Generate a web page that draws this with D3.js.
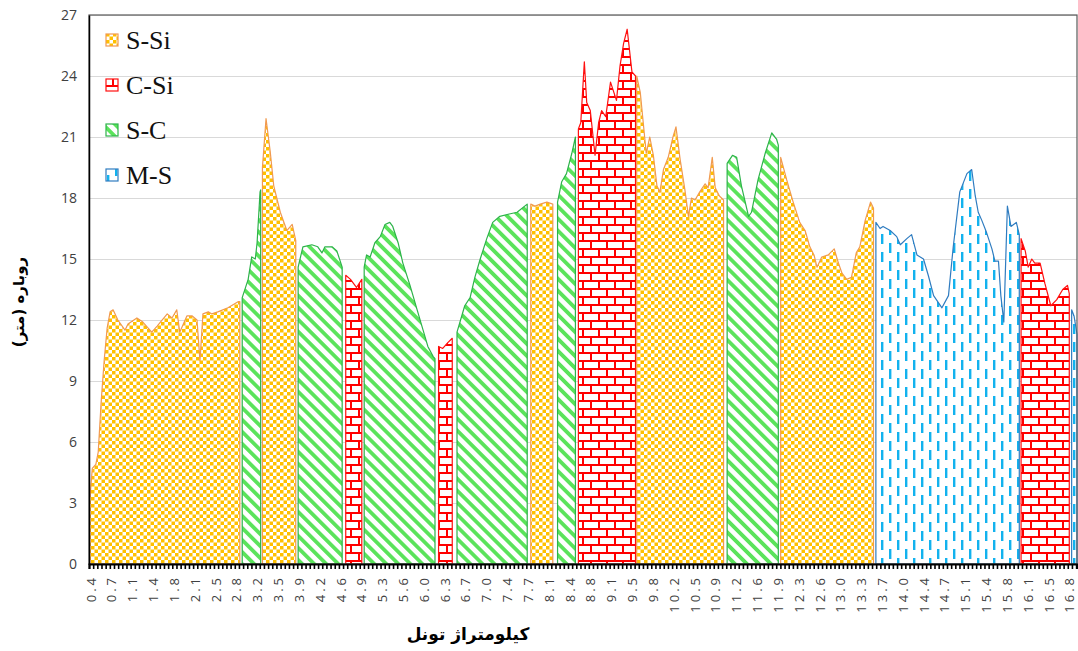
<!DOCTYPE html>
<html><head><meta charset="utf-8">
<script src="https://cdn.jsdelivr.net/npm/d3@7"></script>
<style>body{margin:0;background:#fff;} svg{display:block}</style>
</head><body><svg id="c" width="1078" height="651"></svg>
<script>
// ---- data ----
const soilClasses = ["S-Si", "C-Si", "S-C", "M-S"];
const yTicks = [0, 3, 6, 9, 12, 15, 18, 21, 24, 27];
const kmTickLabels = ["0.4","0.7","1.1","1.4","1.8","2.1","2.5","2.8","3.2","3.5","3.9","4.2","4.6","4.9","5.3","5.6","6.0","6.3","6.7","7.0","7.4","7.7","8.1","8.4","8.8","9.1","9.5","9.8","10.2","10.5","10.9","11.2","11.6","11.9","12.3","12.6","13.0","13.3","13.7","14.0","14.4","14.7","15.1","15.4","15.8","16.1","16.5","16.8"];
const chainageStart = 0.365, chainageStep = 0.07, chainageEnd = 16.97;
const segmentSoil = ["S-Si","S-C","S-Si","S-C","C-Si","S-C","C-Si","S-C","S-Si","S-C","C-Si","S-Si","S-C","S-Si","M-S","C-Si","M-S"];
const segmentPoints = [
  [[0.38,3.2],[0.42,4.7],[0.48,4.9],[0.52,5.5],[0.57,8.0],[0.62,10.0],[0.67,11.6],[0.72,12.4],[0.77,12.5],[0.85,12.0],[0.97,11.5],[1.02,11.8],[1.17,12.1],[1.27,11.9],[1.42,11.4],[1.51,11.7],[1.68,12.3],[1.76,12.1],[1.84,12.5],[1.89,11.4],[2.01,12.2],[2.10,12.2],[2.18,12.0],[2.23,10.0],[2.28,12.3],[2.37,12.4],[2.43,12.3],[2.53,12.4],[2.70,12.6],[2.87,12.9],[2.90,12.9]],
  [[2.94,13.1],[3.04,14.0],[3.10,15.1],[3.16,15.0],[3.19,15.8],[3.24,18.3],[3.25,18.4]],
  [[3.28,19.5],[3.34,21.9],[3.41,20.3],[3.47,18.6],[3.58,17.3],[3.69,16.4],[3.78,16.7],[3.84,15.9]],
  [[3.88,14.6],[3.96,15.6],[4.11,15.7],[4.21,15.6],[4.28,15.3],[4.33,15.6],[4.45,15.6],[4.53,15.4],[4.62,14.6]],
  [[4.68,14.2],[4.76,14.0],[4.86,13.6],[4.95,14.0]],
  [[4.99,14.6],[5.03,15.2],[5.09,15.1],[5.17,15.8],[5.26,16.1],[5.34,16.7],[5.42,16.8],[5.47,16.6],[5.56,15.8],[5.64,14.8],[5.76,13.7],[5.88,12.5],[5.98,11.5],[6.06,10.7],[6.15,10.2],[6.18,10.1]],
  [[6.24,10.7],[6.31,10.6],[6.40,10.9],[6.47,11.1]],
  [[6.55,11.4],[6.60,11.9],[6.68,12.7],[6.77,13.1],[6.85,14.1],[6.94,15.0],[7.05,16.0],[7.15,16.8],[7.27,17.1],[7.41,17.2],[7.56,17.3],[7.73,17.7]],
  [[7.79,17.7],[7.86,17.6],[7.95,17.7],[8.06,17.8],[8.16,17.7]],
  [[8.24,17.8],[8.31,18.8],[8.39,19.2],[8.48,20.2],[8.54,21.0]],
  [[8.59,21.4],[8.63,21.7],[8.69,24.7],[8.73,22.7],[8.79,22.3],[8.87,20.1],[8.93,21.7],[8.98,22.3],[9.05,22.0],[9.13,23.7],[9.23,22.8],[9.29,24.5],[9.35,25.6],[9.41,26.3],[9.49,24.2],[9.55,24.0]],
  [[9.57,24.0],[9.63,23.2],[9.68,21.7],[9.73,20.2],[9.79,21.0],[9.85,20.1],[9.91,18.6],[9.96,18.3],[10.02,19.4],[10.10,20.0],[10.18,21.0],[10.23,21.5],[10.30,19.9],[10.38,18.4],[10.44,17.1],[10.49,18.0],[10.55,17.9],[10.63,18.3],[10.72,18.7],[10.77,18.5],[10.84,20.0],[10.89,18.5],[10.96,18.1],[11.03,17.9]],
  [[11.09,19.7],[11.18,20.1],[11.25,20.0],[11.33,18.6],[11.45,17.1],[11.50,17.3],[11.61,18.9],[11.73,20.2],[11.84,21.2],[11.92,20.9],[11.95,20.6]],
  [[11.99,20.0],[12.09,18.9],[12.20,17.8],[12.31,16.8],[12.40,16.4],[12.48,15.6],[12.55,15.2],[12.60,14.6],[12.68,15.1],[12.79,15.2],[12.89,15.5],[12.96,14.8],[13.02,14.3],[13.10,14.0],[13.18,14.1],[13.26,15.3],[13.32,15.6],[13.41,16.9],[13.50,17.8],[13.55,17.5]],
  [[13.59,16.8],[13.66,16.5],[13.71,16.6],[13.83,16.4],[13.94,16.1],[14.00,15.7],[14.11,16.0],[14.19,16.2],[14.28,15.2],[14.39,15.0],[14.47,14.2],[14.56,13.2],[14.70,12.6],[14.81,13.2],[14.89,15.6],[15.00,18.3],[15.12,19.2],[15.20,19.4],[15.26,18.1],[15.31,17.3],[15.37,16.9],[15.45,16.3],[15.54,15.5],[15.59,14.9],[15.65,14.9],[15.69,13.2],[15.74,11.9],[15.80,17.6],[15.86,16.6],[15.95,16.8],[16.00,16.2]],
  [[16.03,16.0],[16.10,15.4],[16.15,14.6],[16.21,15.0],[16.26,14.8],[16.35,14.8],[16.43,13.8],[16.53,12.7],[16.63,13.0],[16.73,13.5],[16.81,13.7],[16.84,13.3]],
  [[16.88,12.5],[16.92,12.2],[16.97,11.3]]
];
const xTitle = "کیلومتراژ تونل";
const yTitle = "روباره (متر)";

// ---- styles ----
const strokeColor = {"S-Si":"#F19A50","C-Si":"#FF1010","S-C":"#2DB34A","M-S":"#2F7CC0"};

const svg = d3.select("#c");
const L = 89, R = 1077, T = 15, B = 564;
const x = d3.scaleLinear().domain([chainageStart, chainageEnd]).range([L, R]);
const y = d3.scaleLinear().domain([0, 27]).range([B, T]);

// patterns
const defs = svg.append("defs");
let p = defs.append("pattern").attr("id","pat-S-Si").attr("patternUnits","userSpaceOnUse").attr("width",7).attr("height",7);
p.append("rect").attr("width",7).attr("height",7).attr("fill","#fff");
p.append("rect").attr("width",3.5).attr("height",3.5).attr("fill","#FFC000");
p.append("rect").attr("x",3.5).attr("y",3.5).attr("width",3.5).attr("height",3.5).attr("fill","#FFC000");
p = defs.append("pattern").attr("id","pat-C-Si").attr("patternUnits","userSpaceOnUse").attr("width",16).attr("height",16);
p.append("rect").attr("width",16).attr("height",16).attr("fill","#FF0000");
p.append("rect").attr("x",0).attr("y",2).attr("width",14).attr("height",6).attr("fill","#fff");
p.append("rect").attr("x",0).attr("y",10).attr("width",6).attr("height",6).attr("fill","#fff");
p.append("rect").attr("x",8).attr("y",10).attr("width",8).attr("height",6).attr("fill","#fff");
p = defs.append("pattern").attr("id","pat-S-C").attr("patternUnits","userSpaceOnUse").attr("width",8.5).attr("height",8.5).attr("patternTransform","rotate(-45)");
p.append("rect").attr("width",8.5).attr("height",8.5).attr("fill","#fff");
p.append("rect").attr("width",3.8).attr("height",8.5).attr("fill","#5BE35B");
p = defs.append("pattern").attr("id","pat-M-S").attr("patternUnits","userSpaceOnUse").attr("width",16).attr("height",18);
p.append("rect").attr("width",16).attr("height",18).attr("fill","#fff");
p.append("rect").attr("x",1).attr("y",0).attr("width",2.4).attr("height",10).attr("fill","#12B2EE");
p.append("rect").attr("x",9).attr("y",9).attr("width",2.4).attr("height",10).attr("fill","#12B2EE");
p.append("rect").attr("x",9).attr("y",-9).attr("width",2.4).attr("height",10).attr("fill","#12B2EE");

// gridlines
svg.append("g").attr("transform",`translate(${L},0)`)
  .call(d3.axisLeft(y).tickValues(yTicks).tickSize(-(R-L)).tickFormat(""))
  .call(g=>g.select(".domain").remove())
  .call(g=>g.selectAll("line").attr("stroke","#D9D9D9").attr("stroke-width",1.2));

// areas
const area = d3.area().x(d=>x(d[0])).y0(y(0)).y1(d=>y(d[1]));
svg.append("g").selectAll("path").data(segmentPoints).join("path")
  .attr("d", d=>area(d))
  .attr("fill",(d,i)=>`url(#pat-${segmentSoil[i]})`)
  .attr("stroke",(d,i)=>strokeColor[segmentSoil[i]])
  .attr("stroke-width",1.2)
  .attr("stroke-linejoin","round");

// frame
svg.append("rect").attr("x",L).attr("y",T).attr("width",R-L).attr("height",B-T)
  .attr("fill","none").attr("stroke","#595959").attr("stroke-width",1.2);

// x axis with category ticks
const boundaries = d3.range(0, Math.round((chainageEnd-chainageStart)/chainageStep)+1).map(j=>chainageStart + j*chainageStep);
svg.append("g").attr("transform",`translate(0,${B})`)
  .call(d3.axisBottom(x).tickValues(boundaries).tickSize(5).tickFormat(""))
  .call(g=>g.select(".domain").attr("stroke","#000").attr("stroke-width",2))
  .call(g=>g.selectAll("line").attr("stroke","#000").attr("stroke-width",1.6));
svg.append("g").selectAll("text").data(kmTickLabels).join("text")
  .attr("transform",(d,k)=>`translate(${x(chainageStart + (5*k+0.5)*chainageStep)},${B+11}) rotate(-90)`)
  .attr("text-anchor","end").attr("dy","0.35em")
  .attr("font-family","'Open Sans', sans-serif").attr("font-size",13).attr("letter-spacing","3px")
  .attr("fill","#404040").text(d=>d);

// y axis labels
svg.append("g").attr("transform",`translate(${L},0)`)
  .call(d3.axisLeft(y).tickValues(yTicks).tickSize(0).tickPadding(12))
  .call(g=>g.select(".domain").attr("stroke","#000").attr("stroke-width",1.5))
  .call(g=>g.selectAll("text").attr("font-family","'Open Sans', sans-serif").attr("font-size",14).attr("fill","#404040"));

// titles
svg.append("text").attr("x",468).attr("y",640).attr("text-anchor","middle")
  .attr("font-family","'DejaVu Sans', sans-serif").attr("font-weight","bold").attr("font-size",17)
  .attr("direction","rtl").attr("fill","#000").text(xTitle);
svg.append("text").attr("transform","translate(24,302) rotate(-90)").attr("text-anchor","middle")
  .attr("font-family","'DejaVu Sans', sans-serif").attr("font-weight","bold").attr("font-size",15)
  .attr("direction","rtl").attr("fill","#000").text(yTitle);

// legend
const lg = svg.append("g").selectAll("g").data(soilClasses).join("g")
  .attr("transform",(d,i)=>`translate(106,${40 + i*45})`);
lg.append("rect").attr("x",0).attr("y",-6).attr("width",12).attr("height",12)
  .attr("fill",d=>`url(#pat-${d})`).attr("stroke",d=>strokeColor[d]).attr("stroke-width",1.2);
lg.append("text").attr("x",20).attr("y",9).attr("font-family","'Liberation Serif', serif")
  .attr("font-size",26).attr("fill","#111").text(d=>d);
</script></body></html>
